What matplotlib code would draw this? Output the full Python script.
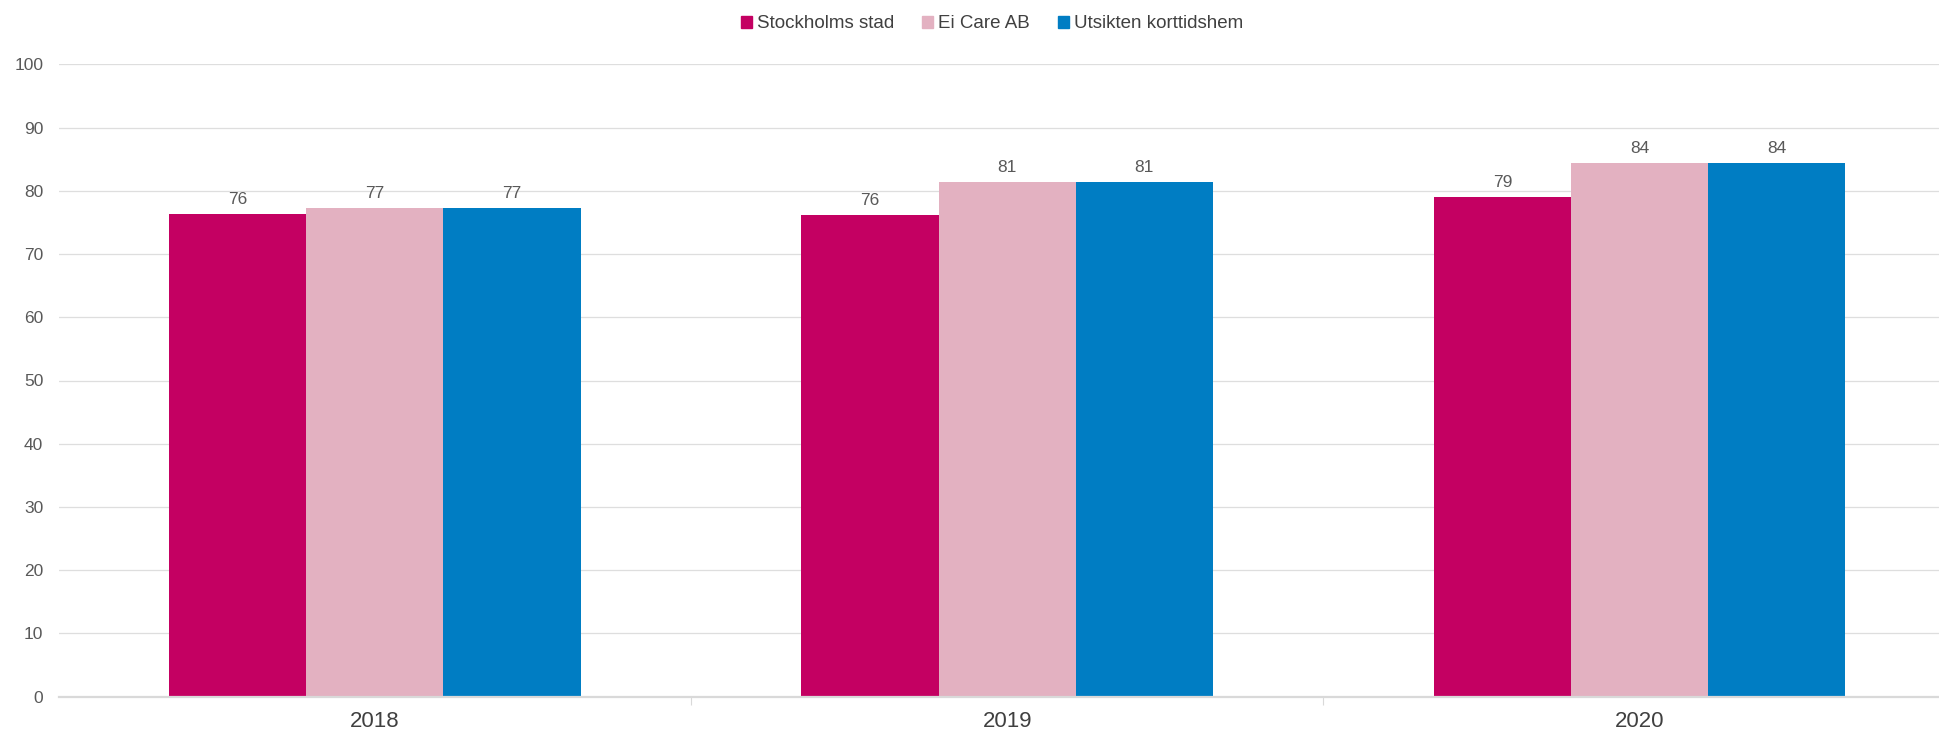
import numpy as np
import matplotlib
matplotlib.use("Agg")
import matplotlib.pyplot as plt
import matplotlib.patches as mpatches

plt.rcParams['font.family'] = ['Liberation Sans', 'DejaVu Sans']

years = ['2018', '2019', '2020']
series = ['Stockholms stad', 'Ei Care AB', 'Utsikten korttidshem']
stockholm = [76.4, 76.2, 79.0]
ei_care = [77.3, 81.4, 84.4]
utsikten = [77.3, 81.4, 84.4]
colors = ['#C40062', '#E3B1C1', '#007DC3']

W, H = 1939, 733
fig = plt.figure(figsize=(W / 100, H / 100), dpi=100)
left, right = 58.6, 1955.8
bottom, top = 696.7, 64.3
ax = fig.add_axes([left / W, 1 - bottom / H, (right - left) / W, (bottom - top) / H])

x = np.arange(len(years))
bw = 0.217
for i, (vals, c) in enumerate(zip([stockholm, ei_care, utsikten], colors)):
    bars = ax.bar(x + (i - 1) * bw, vals, bw, color=c, zorder=3, linewidth=0)
    ax.bar_label(bars, fmt='%.0f', padding=5, fontsize=12.5, color='#595959')

ax.set_xlim(-0.5, 2.5)
ax.set_ylim(0, 100)
ax.set_yticks(np.arange(0, 101, 10))
ax.yaxis.grid(True, color='#dedede', linewidth=0.9, zorder=0)
ax.tick_params(axis='y', length=0, pad=11, labelsize=12.5, labelcolor='#595959')

ax.set_xticks(x)
ax.set_xticklabels(years)
ax.set_xticks([0.5, 1.5], minor=True)
ax.tick_params(axis='x', which='major', length=0, pad=10, labelsize=16, labelcolor='#404040')
ax.tick_params(axis='x', which='minor', length=6, width=0.8, color='#d9d9d9')

for s in ['top', 'right', 'left']:
    ax.spines[s].set_visible(False)
ax.spines['bottom'].set_color('#d9d9d9')
ax.spines['bottom'].set_linewidth(1.6)
ax.spines['bottom'].set_zorder(4)

handles = [mpatches.Patch(color=c, label=s) for c, s in zip(colors, series)]
fig.legend(handles=handles, loc='center', bbox_to_anchor=(992 / W, 1 - 24 / H),
           ncol=3, frameon=False, fontsize=13.5, handlelength=0.6, handleheight=0.6,
           handletextpad=0.25, columnspacing=1.5, labelcolor='#404040')

fig.savefig('out.png', dpi=100)
